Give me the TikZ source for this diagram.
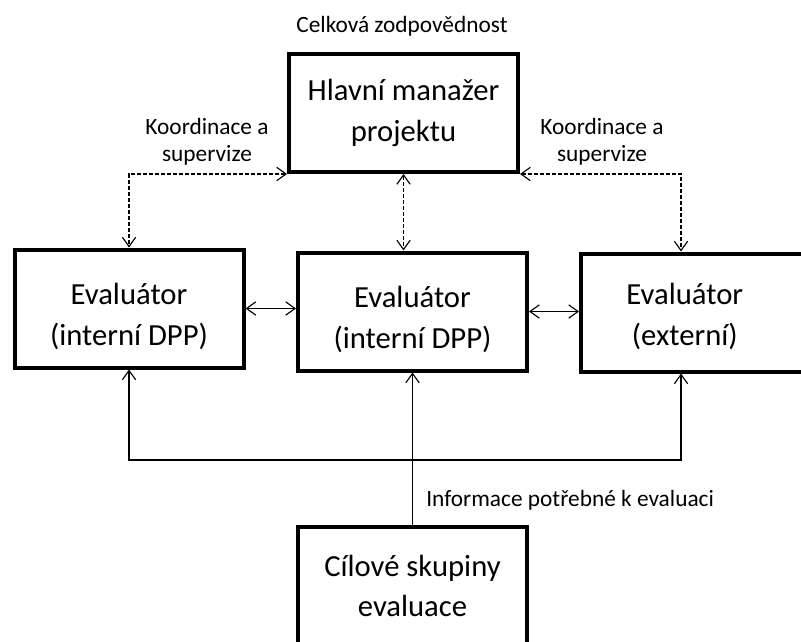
\documentclass[tikz,border=0pt]{standalone}
\usepackage{fontspec}
\setmainfont{Carlito}
\usetikzlibrary{arrows.meta}
\newcommand{\toppad}{\rule{0pt}{28pt}}

\begin{document}
\begin{tikzpicture}[x=0.75pt,y=-0.75pt,
        >={Straight Barb[length=7pt,width=10pt]},
        box/.style={draw, line width=3pt, minimum width=171.75pt, minimum height=88.5pt,
            inner sep=0pt, align=center, font=\fontsize{23}{30.5}\selectfont},
        note/.style={inner sep=0pt, align=center, font=\fontsize{17.5}{20}\selectfont},
        conn/.style={line width=0.85pt},
        dashline/.style={line width=0.85pt, dash pattern=on 3pt off 1.5pt}]
            \clip (0,0) rectangle (801,642);

            % boxes
            \node[box] (mgr) at (403.5,113) {Hlavní manažer\\projektu};
            \node[box] (ev1) at (129,308.5) {\toppad Evaluátor\\(interní DPP)};
            \node[box] (ev2) at (412.5,311.5) {\toppad Evaluátor\\(interní DPP)};
            \node[box] (ev3) at (695.5,312.5) {\hspace*{-16pt}\begin{tabular}{@{}c@{}}\toppad Evaluátor\\(externí)\end{tabular}};
            \node[box] (tgt) at (412.5,586) {Cílové skupiny\\evaluace};

            % texts
            \node[note] (resp) at (402,26) {Celková zodpovědnost};
            \node[note] (coordL) at (207,142) {Koordinace a\\supervize};
            \node[note] (coordR) at (602,142) {Koordinace a\\supervize};
            \node[note, anchor=west] (info) at (426,500) {Informace potřebné k evaluaci};

            \coordinate (col3) at (681,0);
            \coordinate (junc) at (412.5,460);

            % supervision
            \draw[dashline,<->] (mgr.south west) -| (ev1.north);
            \draw[dashline,<->] (mgr.south east) -| (ev3.north -| col3);
            \draw[dashline,<->] (mgr.south) -- (mgr.south |- ev2.north);

            \draw[conn,<->] (ev1.east) -- (ev1.east -| ev2.west);
            \draw[conn,<->] (ev2.east) -- (ev2.east -| ev3.west);

            % information
            \draw[conn,<->] (ev1.south) |- (junc) -| (ev3.south -| col3);
            \draw[conn,->] (tgt.north) -- (ev2.south);
\end{tikzpicture}
\end{document}
